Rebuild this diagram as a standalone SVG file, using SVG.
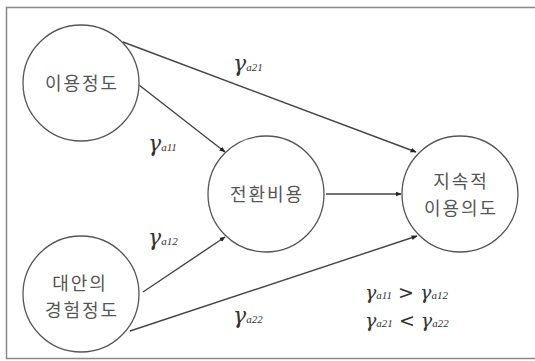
<svg xmlns="http://www.w3.org/2000/svg" width="535" height="361" viewBox="0 0 535 361">
<style>
.node{fill:#fff;stroke:#555;stroke-width:1.3}
.kt{font-family:"Noto Sans CJK KR","Noto Sans",sans-serif;font-size:18px;fill:#555;text-anchor:middle;letter-spacing:2px}
.g{font-family:"DejaVu Serif","Liberation Serif",serif;font-style:italic;fill:#333}
.g .s{font-size:11px;font-family:"Liberation Serif",serif}
.edge{stroke:#444;stroke-width:1.4;fill:none;marker-end:url(#ah)}
</style>
<defs>
<marker id="ah" viewBox="0 0 10 10" refX="9" refY="5" markerWidth="6" markerHeight="6" orient="auto" markerUnits="userSpaceOnUse">
<path d="M0,1 L10,5 L0,9 z" fill="#222"/>
</marker>
</defs>
<rect x="0" y="0" width="535" height="361" fill="#fff"/>
<rect x="6.5" y="7.5" width="530" height="351" fill="#fff" stroke="#888" stroke-width="1.5"/>
<g id="connectors">
<line class="edge" x1="123" y1="42" x2="416" y2="152"/>
<line class="edge" x1="139" y1="85" x2="225" y2="152"/>
<line class="edge" x1="143" y1="292" x2="225" y2="237"/>
<line class="edge" x1="130" y1="331" x2="417" y2="236"/>
<line class="edge" x1="326" y1="194" x2="401" y2="194" stroke-width="2" stroke="#777"/>
</g>
<g id="n1"><circle class="node" cx="81" cy="83" r="58"/><text class="kt" x="82" y="90">이용정도</text></g>
<g id="n2"><circle class="node" cx="81" cy="294" r="58"/><text class="kt" x="80" y="290">대안의</text><text class="kt" x="82" y="317">경험정도</text></g>
<g id="n3"><circle class="node" cx="266" cy="194" r="58"/><text class="kt" x="267" y="201">전환비용</text></g>
<g id="n4"><circle class="node" cx="460" cy="194" r="58"/><text class="kt" x="461" y="188">지속적</text><text class="kt" x="461" y="215">이용의도</text></g>
<g id="labels">
<text class="g" x="233" y="71" font-size="22">γ<tspan class="s">a21</tspan></text>
<text class="g" x="148" y="151" font-size="22">γ<tspan class="s">a11</tspan></text>
<text class="g" x="148" y="245" font-size="22">γ<tspan class="s">a12</tspan></text>
<text class="g" x="233" y="323" font-size="22">γ<tspan class="s">a22</tspan></text>
<text class="g" x="365" y="299" font-size="19">γ<tspan class="s">a11</tspan><tspan font-style="normal"> &gt; </tspan>γ<tspan class="s">a12</tspan></text>
<text class="g" x="365" y="327" font-size="19">γ<tspan class="s">a21</tspan><tspan font-style="normal"> &lt; </tspan>γ<tspan class="s">a22</tspan></text>
</g>
</svg>
